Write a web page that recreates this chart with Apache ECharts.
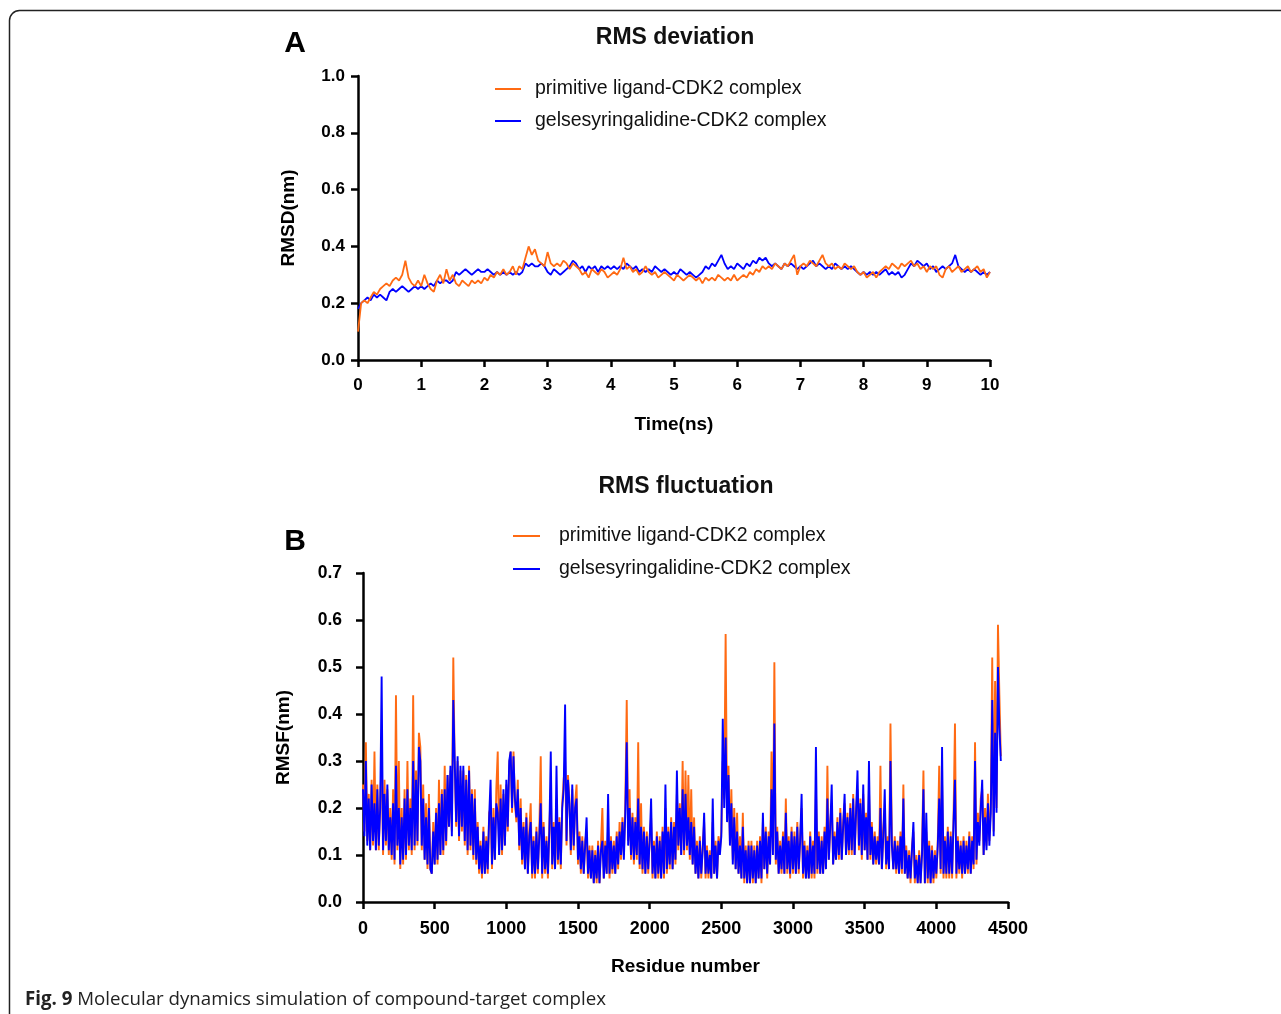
<!DOCTYPE html>
<html>
<head>
<meta charset="utf-8">
<script src="https://cdn.jsdelivr.net/npm/echarts@6/dist/echarts.min.js"></script>
<style>
html,body{margin:0;padding:0;background:#fff;}
#c{width:1281px;height:1014px;}
</style>
</head>
<body>
<div id="c"></div>
<script>
// ---------- Data: RMS deviation (time step 0.05 ns, 0 -> 10 ns) ----------
const RMSD_TIME_START = 0;
const RMSD_TIME_STEP = 0.05;
const RMSD_PRIMITIVE = [
0.10,0.20,0.21,0.20,0.22,0.24,0.23,0.25,0.26,0.27,0.26,0.28,0.29,0.28,0.30,0.35,0.29,0.27,0.26,0.28,
0.26,0.30,0.27,0.25,0.24,0.28,0.30,0.27,0.32,0.28,0.30,0.27,0.26,0.28,0.27,0.26,0.28,0.27,0.28,0.27,
0.29,0.28,0.30,0.29,0.31,0.30,0.32,0.30,0.31,0.33,0.30,0.33,0.32,0.36,0.40,0.37,0.39,0.35,0.34,0.33,
0.38,0.34,0.33,0.34,0.33,0.35,0.34,0.32,0.34,0.33,0.32,0.30,0.31,0.29,0.32,0.31,0.30,0.32,0.31,0.29,
0.30,0.31,0.30,0.32,0.36,0.32,0.33,0.31,0.32,0.30,0.31,0.33,0.31,0.30,0.31,0.29,0.30,0.31,0.30,0.29,
0.28,0.30,0.29,0.28,0.29,0.30,0.29,0.28,0.29,0.27,0.29,0.28,0.29,0.28,0.30,0.29,0.28,0.29,0.28,0.30,
0.28,0.29,0.30,0.29,0.31,0.30,0.32,0.31,0.33,0.32,0.33,0.32,0.34,0.33,0.32,0.34,0.33,0.35,0.37,0.30,
0.33,0.34,0.33,0.35,0.34,0.33,0.35,0.37,0.34,0.33,0.34,0.32,0.33,0.32,0.34,0.33,0.32,0.33,0.31,0.30,
0.31,0.29,0.30,0.31,0.29,0.31,0.32,0.33,0.32,0.34,0.33,0.32,0.34,0.33,0.34,0.35,0.33,0.34,0.32,0.33,
0.31,0.33,0.32,0.33,0.30,0.29,0.32,0.33,0.31,0.32,0.33,0.31,0.32,0.33,0.31,0.32,0.33,0.31,0.32,0.29,
0.31
];
const RMSD_GELSE = [
0.18,0.20,0.21,0.22,0.21,0.23,0.22,0.23,0.22,0.21,0.24,0.25,0.24,0.25,0.26,0.25,0.24,0.25,0.26,0.25,
0.26,0.25,0.26,0.27,0.26,0.28,0.27,0.28,0.28,0.27,0.28,0.31,0.30,0.31,0.32,0.31,0.30,0.31,0.32,0.31,
0.31,0.32,0.31,0.30,0.31,0.30,0.31,0.30,0.31,0.30,0.31,0.30,0.31,0.34,0.33,0.34,0.33,0.33,0.34,0.33,
0.31,0.30,0.32,0.31,0.30,0.31,0.32,0.33,0.35,0.34,0.32,0.33,0.31,0.33,0.32,0.33,0.31,0.33,0.32,0.33,
0.32,0.33,0.32,0.33,0.32,0.34,0.33,0.32,0.33,0.31,0.32,0.31,0.32,0.31,0.33,0.32,0.31,0.32,0.31,0.30,
0.31,0.30,0.32,0.31,0.30,0.31,0.30,0.29,0.30,0.31,0.33,0.32,0.34,0.33,0.35,0.37,0.34,0.32,0.33,0.32,
0.34,0.33,0.32,0.34,0.33,0.35,0.34,0.36,0.35,0.36,0.34,0.33,0.34,0.33,0.32,0.34,0.33,0.34,0.33,0.32,
0.33,0.32,0.33,0.34,0.35,0.33,0.34,0.33,0.32,0.33,0.32,0.34,0.33,0.32,0.33,0.32,0.33,0.32,0.31,0.30,
0.31,0.30,0.31,0.30,0.31,0.30,0.31,0.32,0.30,0.31,0.30,0.31,0.29,0.30,0.32,0.34,0.33,0.35,0.34,0.33,
0.34,0.32,0.33,0.31,0.32,0.33,0.32,0.33,0.34,0.37,0.33,0.32,0.31,0.32,0.31,0.32,0.31,0.30,0.31,0.30,
0.31
];

// ---------- Data: RMS fluctuation (residue step 10, 0 -> 4450) ----------
const RMSF_RES_START = 0;
const RMSF_RES_STEP = 10;
const RMSF_PRIMITIVE = [
0.25,0.15,0.34,0.13,0.23,0.11,0.26,0.12,0.32,0.11,
0.25,0.11,0.22,0.30,0.10,0.26,0.12,0.24,0.10,0.20,
0.09,0.24,0.08,0.44,0.11,0.30,0.07,0.20,0.08,0.24,
0.09,0.30,0.11,0.22,0.10,0.44,0.11,0.28,0.12,0.36,
0.33,0.11,0.25,0.09,0.21,0.07,0.23,0.07,0.06,0.17,
0.08,0.20,0.08,0.26,0.10,0.24,0.10,0.29,0.12,0.27,
0.16,0.28,0.15,0.52,0.29,0.16,0.30,0.13,0.28,0.15,
0.28,0.12,0.27,0.10,0.29,0.11,0.24,0.09,0.24,0.08,
0.17,0.06,0.13,0.05,0.16,0.06,0.14,0.06,0.19,0.20,
0.07,0.20,0.09,0.24,0.32,0.10,0.25,0.10,0.23,0.12,
0.25,0.15,0.29,0.32,0.19,0.32,0.21,0.17,0.26,0.11,
0.22,0.08,0.17,0.07,0.19,0.06,0.15,0.21,0.05,0.14,
0.05,0.16,0.06,0.15,0.31,0.05,0.17,0.06,0.14,0.05,
0.16,0.24,0.07,0.17,0.07,0.22,0.08,0.18,0.07,0.21,
0.26,0.30,0.12,0.27,0.22,0.10,0.24,0.11,0.21,0.25,
0.08,0.15,0.06,0.14,0.06,0.13,0.15,0.05,0.12,0.05,
0.12,0.04,0.11,0.04,0.13,0.04,0.12,0.20,0.05,0.13,
0.06,0.16,0.05,0.14,0.06,0.13,0.06,0.15,0.07,0.17,
0.09,0.18,0.10,0.21,0.43,0.13,0.24,0.09,0.19,0.08,
0.18,0.09,0.34,0.07,0.21,0.06,0.16,0.06,0.15,0.06,
0.14,0.18,0.05,0.13,0.05,0.15,0.05,0.14,0.05,0.16,
0.05,0.20,0.06,0.16,0.07,0.18,0.07,0.17,0.08,0.23,
0.11,0.21,0.10,0.30,0.10,0.28,0.11,0.27,0.09,0.24,
0.08,0.18,0.06,0.13,0.05,0.14,0.05,0.12,0.17,0.05,
0.12,0.05,0.11,0.05,0.17,0.06,0.13,0.05,0.14,0.11,
0.15,0.30,0.22,0.57,0.18,0.29,0.13,0.24,0.09,0.20,
0.07,0.19,0.06,0.14,0.05,0.19,0.04,0.12,0.04,0.13,
0.04,0.13,0.04,0.12,0.04,0.13,0.05,0.14,0.04,0.17,
0.07,0.16,0.05,0.15,0.08,0.32,0.11,0.51,0.08,0.16,
0.06,0.13,0.06,0.15,0.06,0.22,0.06,0.14,0.05,0.16,
0.06,0.15,0.06,0.17,0.06,0.14,0.20,0.05,0.13,0.05,
0.12,0.05,0.15,0.05,0.13,0.05,0.24,0.06,0.15,0.06,
0.14,0.06,0.16,0.07,0.29,0.09,0.17,0.21,0.08,0.15,
0.09,0.18,0.09,0.20,0.09,0.17,0.21,0.10,0.19,0.10,
0.21,0.10,0.23,0.10,0.20,0.24,0.11,0.22,0.09,0.23,
0.11,0.19,0.09,0.24,0.09,0.17,0.08,0.15,0.08,0.14,
0.08,0.29,0.07,0.15,0.20,0.07,0.14,0.07,0.38,0.13,
0.07,0.14,0.06,0.13,0.06,0.15,0.06,0.25,0.06,0.12,
0.05,0.11,0.04,0.12,0.15,0.04,0.10,0.04,0.11,0.04,
0.11,0.28,0.04,0.15,0.04,0.13,0.04,0.12,0.04,0.11,
0.05,0.13,0.29,0.06,0.25,0.05,0.14,0.05,0.16,0.05,
0.15,0.05,0.18,0.38,0.05,0.14,0.06,0.13,0.05,0.14,
0.06,0.13,0.06,0.15,0.06,0.14,0.07,0.34,0.08,0.19,
0.13,0.22,0.24,0.10,0.20,0.12,0.23,0.13,0.21,0.52,
0.15,0.47,0.20,0.59,0.44,0.31
];
const RMSF_GELSE = [
0.24,0.14,0.30,0.12,0.22,0.11,0.25,0.13,0.21,0.11,
0.24,0.12,0.20,0.48,0.11,0.23,0.13,0.25,0.11,0.18,
0.10,0.21,0.09,0.29,0.12,0.20,0.08,0.18,0.09,0.22,
0.10,0.24,0.12,0.20,0.11,0.30,0.12,0.26,0.13,0.33,
0.30,0.12,0.22,0.09,0.18,0.08,0.20,0.07,0.06,0.15,
0.08,0.19,0.09,0.21,0.10,0.23,0.11,0.24,0.13,0.27,
0.16,0.29,0.14,0.43,0.30,0.17,0.31,0.14,0.29,0.16,
0.29,0.13,0.26,0.11,0.28,0.12,0.23,0.10,0.22,0.09,
0.16,0.07,0.12,0.06,0.15,0.06,0.13,0.07,0.18,0.26,
0.08,0.18,0.09,0.21,0.19,0.10,0.22,0.11,0.24,0.12,
0.26,0.16,0.30,0.32,0.20,0.31,0.22,0.18,0.24,0.12,
0.20,0.09,0.16,0.07,0.18,0.06,0.14,0.17,0.06,0.13,
0.06,0.15,0.07,0.14,0.21,0.06,0.16,0.07,0.13,0.06,
0.15,0.32,0.08,0.16,0.07,0.29,0.09,0.17,0.08,0.20,
0.24,0.42,0.13,0.26,0.21,0.11,0.25,0.12,0.20,0.22,
0.09,0.14,0.07,0.13,0.06,0.12,0.18,0.06,0.11,0.05,
0.11,0.04,0.10,0.05,0.12,0.04,0.11,0.13,0.05,0.12,
0.06,0.23,0.06,0.13,0.07,0.12,0.06,0.14,0.08,0.15,
0.10,0.17,0.09,0.19,0.34,0.12,0.20,0.10,0.18,0.09,
0.17,0.10,0.22,0.08,0.16,0.07,0.15,0.06,0.14,0.07,
0.13,0.22,0.06,0.12,0.05,0.14,0.06,0.13,0.05,0.15,
0.06,0.25,0.07,0.15,0.08,0.17,0.07,0.16,0.09,0.28,
0.12,0.20,0.10,0.24,0.11,0.23,0.12,0.18,0.10,0.17,
0.08,0.16,0.06,0.12,0.05,0.13,0.06,0.11,0.19,0.06,
0.11,0.06,0.10,0.05,0.22,0.06,0.12,0.05,0.13,0.10,
0.14,0.39,0.20,0.35,0.17,0.27,0.12,0.21,0.08,0.18,
0.07,0.15,0.06,0.12,0.05,0.16,0.05,0.11,0.04,0.12,
0.04,0.12,0.05,0.11,0.04,0.12,0.05,0.13,0.05,0.19,
0.07,0.15,0.06,0.14,0.08,0.24,0.10,0.38,0.09,0.15,
0.06,0.12,0.07,0.14,0.06,0.19,0.07,0.13,0.06,0.15,
0.07,0.14,0.06,0.16,0.07,0.13,0.23,0.06,0.12,0.05,
0.11,0.05,0.14,0.06,0.12,0.06,0.33,0.07,0.14,0.06,
0.13,0.06,0.15,0.07,0.22,0.09,0.16,0.25,0.08,0.14,
0.09,0.17,0.10,0.19,0.09,0.16,0.23,0.10,0.18,0.11,
0.20,0.11,0.22,0.10,0.19,0.28,0.12,0.21,0.10,0.25,
0.11,0.18,0.09,0.30,0.10,0.16,0.08,0.14,0.09,0.13,
0.08,0.20,0.07,0.14,0.24,0.08,0.13,0.07,0.30,0.12,
0.07,0.13,0.07,0.12,0.06,0.14,0.07,0.22,0.06,0.11,
0.05,0.10,0.05,0.11,0.17,0.05,0.09,0.04,0.10,0.04,
0.10,0.24,0.04,0.19,0.05,0.12,0.04,0.11,0.05,0.10,
0.06,0.12,0.22,0.07,0.33,0.06,0.13,0.06,0.15,0.06,
0.14,0.06,0.17,0.26,0.06,0.13,0.07,0.12,0.06,0.13,
0.06,0.12,0.07,0.14,0.06,0.13,0.08,0.30,0.09,0.17,
0.12,0.20,0.26,0.10,0.18,0.11,0.21,0.12,0.19,0.43,
0.14,0.36,0.19,0.50,0.37,0.30
];

// ---------- Text / ticks ----------
const SERIES_NAMES = ['primitive ligand-CDK2 complex', 'gelsesyringalidine-CDK2 complex'];
const COLORS = ['#FF6A13', '#0000FF'];
const RMSD_Y_TICKS = { min: 0, max: 1.0, step: 0.2 };
const RMSD_X_TICKS = { min: 0, max: 10, step: 1 };
const RMSF_Y_TICKS = { min: 0, max: 0.7, step: 0.1 };
const RMSF_X_TICKS = { min: 0, max: 4500, step: 500 };

const pairs = (arr, start, step) => arr.map((v, i) => [start + i * step, v]);

const FONT = 'Liberation Sans, Arial, Helvetica, sans-serif';
const BLACK = '#000';

function axisCommon(fontSize, margin) {
  return {
    axisLine: { show: true, onZero: false, lineStyle: { color: BLACK, width: 2.5 } },
    axisTick: { show: true, inside: false, length: 7, lineStyle: { color: BLACK, width: 2.5 } },
    axisLabel: { color: BLACK, fontFamily: FONT, fontWeight: 'bold', fontSize: fontSize, margin: margin },
    splitLine: { show: false },
    nameTextStyle: { color: BLACK, fontFamily: FONT, fontWeight: 'bold', fontSize: 19 }
  };
}

const chart = echarts.init(document.getElementById('c'), null, { renderer: 'canvas' });

const legendText = (pad) => ({ fontFamily: FONT, fontSize: 19.5, color: '#111', padding: [0, 0, 0, pad] });

const option = {
  backgroundColor: '#fff',
  animation: false,
  grid: [
    { left: 358, top: 76, width: 632, height: 284, containLabel: false },
    { left: 363, top: 573, width: 645, height: 329, containLabel: false }
  ],
  xAxis: [
    Object.assign(axisCommon(17, 17), {
      type: 'value', gridIndex: 0,
      min: RMSD_X_TICKS.min, max: RMSD_X_TICKS.max, interval: RMSD_X_TICKS.step,
      name: 'Time(ns)', nameLocation: 'middle', nameGap: 55
    }),
    Object.assign(axisCommon(18, 18), {
      type: 'value', gridIndex: 1,
      min: RMSF_X_TICKS.min, max: RMSF_X_TICKS.max, interval: RMSF_X_TICKS.step,
      name: 'Residue number', nameLocation: 'middle', nameGap: 55
    })
  ],
  yAxis: [
    Object.assign(axisCommon(17, 13), {
      type: 'value', gridIndex: 0,
      min: RMSD_Y_TICKS.min, max: RMSD_Y_TICKS.max, interval: RMSD_Y_TICKS.step,
      name: 'RMSD(nm)', nameLocation: 'middle', nameGap: 60
    }),
    Object.assign(axisCommon(17.5, 21), {
      type: 'value', gridIndex: 1,
      min: RMSF_Y_TICKS.min, max: RMSF_Y_TICKS.max, interval: RMSF_Y_TICKS.step,
      name: 'RMSF(nm)', nameLocation: 'middle', nameGap: 70
    })
  ],
  legend: [
    {
      left: 490, top: 74, orient: 'vertical', itemWidth: 26, itemHeight: 2, itemGap: 12,
      icon: 'rect', selectedMode: false, data: SERIES_NAMES,
      textStyle: legendText(9)
    },
    {
      left: 508, top: 521, orient: 'vertical', itemWidth: 27, itemHeight: 2, itemGap: 13,
      icon: 'rect', selectedMode: false, data: SERIES_NAMES,
      textStyle: legendText(14)
    }
  ],
  series: [
    { name: SERIES_NAMES[1], type: 'line', xAxisIndex: 0, yAxisIndex: 0, symbol: 'none', showSymbol: false,
      color: COLORS[1], lineStyle: { width: 1.8, color: COLORS[1] },
      data: pairs(RMSD_GELSE, RMSD_TIME_START, RMSD_TIME_STEP) },
    { name: SERIES_NAMES[0], type: 'line', xAxisIndex: 0, yAxisIndex: 0, symbol: 'none', showSymbol: false,
      color: COLORS[0], lineStyle: { width: 1.8, color: COLORS[0] },
      data: pairs(RMSD_PRIMITIVE, RMSD_TIME_START, RMSD_TIME_STEP) },
    { name: SERIES_NAMES[0], type: 'line', xAxisIndex: 1, yAxisIndex: 1, symbol: 'none', showSymbol: false,
      color: COLORS[0], lineStyle: { width: 1.9, color: COLORS[0] },
      data: pairs(RMSF_PRIMITIVE, RMSF_RES_START, RMSF_RES_STEP) },
    { name: SERIES_NAMES[1], type: 'line', xAxisIndex: 1, yAxisIndex: 1, symbol: 'none', showSymbol: false,
      color: COLORS[1], lineStyle: { width: 1.9, color: COLORS[1] },
      data: pairs(RMSF_GELSE, RMSF_RES_START, RMSF_RES_STEP) }
  ],
  graphic: [
    { type: 'rect', z: -10, shape: { x: 9.5, y: 10.5, width: 1300, height: 1040, r: 10 },
      style: { fill: 'none', stroke: '#222', lineWidth: 1.5 } },
    { type: 'text', x: 675, y: 38, style: { text: 'RMS deviation', align: 'center', verticalAlign: 'middle',
      font: 'bold 23px ' + FONT, fill: '#111' } },
    { type: 'text', x: 686, y: 487, style: { text: 'RMS fluctuation', align: 'center', verticalAlign: 'middle',
      font: 'bold 23px ' + FONT, fill: '#111' } },
    { type: 'text', x: 295, y: 44, style: { text: 'A', align: 'center', verticalAlign: 'middle',
      font: 'bold 30px ' + FONT, fill: '#000' } },
    { type: 'text', x: 295, y: 542, style: { text: 'B', align: 'center', verticalAlign: 'middle',
      font: 'bold 30px ' + FONT, fill: '#000' } },
    { type: 'text', x: 25, y: 1000, style: {
      text: '{b|Fig. 9} Molecular dynamics simulation of compound-target complex',
      verticalAlign: 'middle', fill: '#222', font: '18.7px "Open Sans", sans-serif',
      rich: { b: { fontWeight: 'bold', fontFamily: '"Open Sans", sans-serif', fontSize: 18.7, fill: '#222' } } } }
  ]
};

option.yAxis[0].axisLabel.formatter = v => v.toFixed(1);
option.yAxis[1].axisLabel.formatter = v => v.toFixed(1);
option.xAxis[0].axisLabel.formatter = v => String(v);
option.xAxis[1].axisLabel.formatter = v => String(v);

chart.setOption(option);
</script>
</body>
</html>
